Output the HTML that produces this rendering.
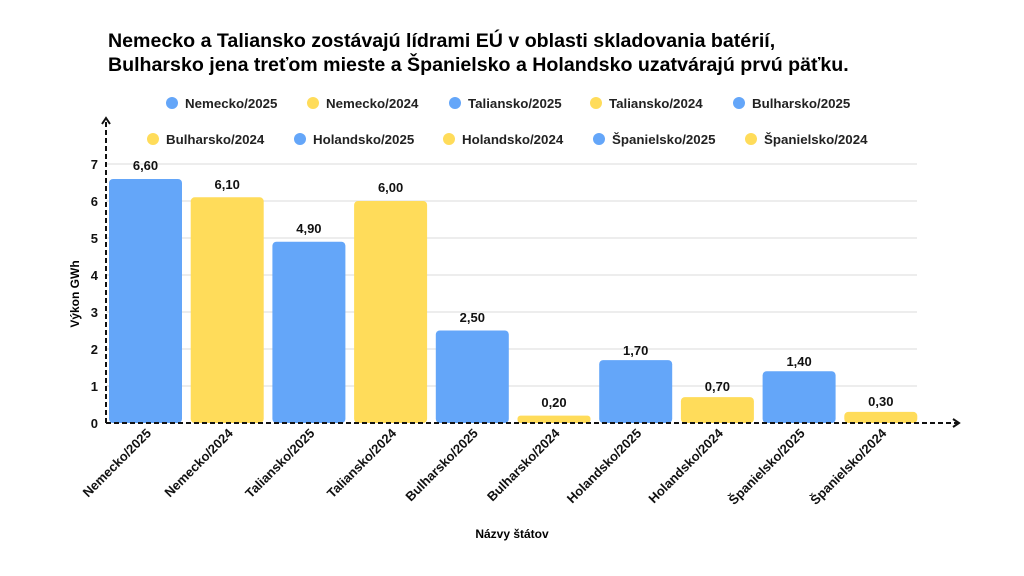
<!DOCTYPE html>
<html><head><meta charset="utf-8"><style>
html,body{margin:0;padding:0;background:#fff;}
svg{display:block;font-family:"Liberation Sans",Arial,sans-serif;font-weight:bold;}
</style></head><body>
<svg width="1024" height="576" viewBox="0 0 1024 576" xmlns="http://www.w3.org/2000/svg">
<text x="108" y="47" font-size="19.6" fill="#000">Nemecko a Taliansko zostávajú lídrami EÚ v oblasti skladovania batérií,</text>
<text x="108" y="71" font-size="19.6" fill="#000">Bulharsko jena treťom mieste a Španielsko a Holandsko uzatvárajú prvú päťku.</text>
<g font-size="13.3" fill="#222">
<circle cx="172" cy="103" r="6" fill="#64A6F9"/><text x="185" y="108">Nemecko/2025</text>
<circle cx="313" cy="103" r="6" fill="#FFDC5A"/><text x="326" y="108">Nemecko/2024</text>
<circle cx="455" cy="103" r="6" fill="#64A6F9"/><text x="468" y="108">Taliansko/2025</text>
<circle cx="596" cy="103" r="6" fill="#FFDC5A"/><text x="609" y="108">Taliansko/2024</text>
<circle cx="739" cy="103" r="6" fill="#64A6F9"/><text x="752" y="108">Bulharsko/2025</text>
<circle cx="153" cy="139" r="6" fill="#FFDC5A"/><text x="166" y="144">Bulharsko/2024</text>
<circle cx="300" cy="139" r="6" fill="#64A6F9"/><text x="313" y="144">Holandsko/2025</text>
<circle cx="449" cy="139" r="6" fill="#FFDC5A"/><text x="462" y="144">Holandsko/2024</text>
<circle cx="599" cy="139" r="6" fill="#64A6F9"/><text x="612" y="144">Španielsko/2025</text>
<circle cx="751" cy="139" r="6" fill="#FFDC5A"/><text x="764" y="144">Španielsko/2024</text>
</g>
<g stroke="#e2e2e2" stroke-width="1.2">
<line x1="106" x2="917" y1="164" y2="164"/><line x1="106" x2="917" y1="201" y2="201"/>
<line x1="106" x2="917" y1="238" y2="238"/><line x1="106" x2="917" y1="275" y2="275"/>
<line x1="106" x2="917" y1="312" y2="312"/><line x1="106" x2="917" y1="349" y2="349"/>
<line x1="106" x2="917" y1="386" y2="386"/>
</g>
<g font-size="13" fill="#111" text-anchor="end">
<text x="98" y="428">0</text><text x="98" y="391">1</text><text x="98" y="354">2</text><text x="98" y="317">3</text>
<text x="98" y="280">4</text><text x="98" y="243">5</text><text x="98" y="206">6</text><text x="98" y="169">7</text>
</g>
<text transform="translate(79,294) rotate(-90)" font-size="12" text-anchor="middle">Výkon GWh</text>
<g>
<rect x="109" y="179" width="73" height="244" rx="4" fill="#64A6F9"/>
<rect x="190.7" y="197.3" width="73" height="225.7" rx="4" fill="#FFDC5A"/>
<rect x="272.4" y="241.7" width="73" height="181.3" rx="4" fill="#64A6F9"/>
<rect x="354.1" y="201" width="73" height="222" rx="4" fill="#FFDC5A"/>
<rect x="435.8" y="330.5" width="73" height="92.5" rx="4" fill="#64A6F9"/>
<rect x="517.5" y="415.6" width="73" height="7.4" rx="3" fill="#FFDC5A"/>
<rect x="599.2" y="360.1" width="73" height="62.9" rx="4" fill="#64A6F9"/>
<rect x="680.9" y="397.1" width="73" height="25.9" rx="4" fill="#FFDC5A"/>
<rect x="762.6" y="371.2" width="73" height="51.8" rx="4" fill="#64A6F9"/>
<rect x="844.3" y="411.9" width="73" height="11.1" rx="4" fill="#FFDC5A"/>
</g>
<g font-size="13" fill="#111" text-anchor="middle">
<text x="145.5" y="170">6,60</text><text x="227.2" y="189">6,10</text><text x="308.9" y="233">4,90</text>
<text x="390.6" y="192">6,00</text><text x="472.3" y="322">2,50</text><text x="554" y="407">0,20</text>
<text x="635.7" y="355">1,70</text><text x="717.4" y="391">0,70</text><text x="799.1" y="366">1,40</text>
<text x="880.8" y="406">0,30</text>
</g>
<g stroke="#111" stroke-width="2" fill="none" stroke-dasharray="5,3">
<line x1="106" y1="423" x2="106" y2="120"/>
<line x1="106" y1="423" x2="957" y2="423"/>
</g>
<g stroke="#111" stroke-width="2" fill="none">
<polyline points="102,124 106,118 110,124"/>
<polyline points="953,419 959,423 953,427"/>
</g>
<g font-size="13" fill="#111" text-anchor="end">
<text transform="translate(152,434) rotate(-45)">Nemecko/2025</text>
<text transform="translate(233.7,434) rotate(-45)">Nemecko/2024</text>
<text transform="translate(315.4,434) rotate(-45)">Taliansko/2025</text>
<text transform="translate(397.1,434) rotate(-45)">Taliansko/2024</text>
<text transform="translate(478.8,434) rotate(-45)">Bulharsko/2025</text>
<text transform="translate(560.5,434) rotate(-45)">Bulharsko/2024</text>
<text transform="translate(642.2,434) rotate(-45)">Holandsko/2025</text>
<text transform="translate(723.9,434) rotate(-45)">Holandsko/2024</text>
<text transform="translate(805.6,434) rotate(-45)">Španielsko/2025</text>
<text transform="translate(887.3,434) rotate(-45)">Španielsko/2024</text>
</g>
<text x="512" y="538" font-size="12" text-anchor="middle">Názvy štátov</text>
</svg>
</body></html>
